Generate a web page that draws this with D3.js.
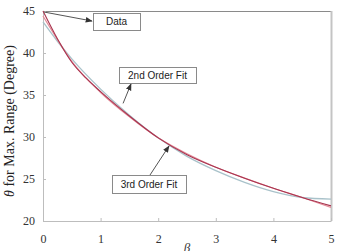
<!DOCTYPE html>
<html><head><meta charset="utf-8">
<script src="https://cdn.jsdelivr.net/npm/d3@7"></script>
<style>body{margin:0;background:#fff;}svg{display:block;}</style>
</head><body>
<svg id="c" width="337" height="251"></svg>
<script>
const betaData = [0, 0.25, 0.5, 0.75, 1, 1.5, 2, 2.5, 3, 3.5, 4, 4.5, 5];
const thetaData = [45, 41.7, 38.9, 37.0, 35.4, 32.5, 29.9, 27.9, 26.4, 25.1, 23.9, 22.8, 21.8];
const betaFit = [0, 0.25, 0.5, 1, 1.5, 2, 2.5, 3, 3.5, 4, 4.5, 5];
const theta2nd = [43.7, 41.4, 39.3, 35.7, 32.6, 29.9, 27.7, 26.0, 24.6, 23.5, 22.8, 22.6];
const theta3rd = [44.4, 41.6, 39.0, 35.3, 32.4, 29.9, 28.0, 26.4, 25.1, 23.9, 22.8, 21.6];
const xTicks = [0, 1, 2, 3, 4, 5];
const yTicks = [20, 25, 30, 35, 40, 45];

const svg = d3.select("#c");
const L = 43, R = 331, T = 11, B = 221;
const x = d3.scaleLinear().domain([0, 5]).range([L, R]);
const y = d3.scaleLinear().domain([20, 45]).range([B, T]);

// frame
svg.append("line").attr("x1", L).attr("x2", R).attr("y1", T+0.5).attr("y2", T+0.5).attr("stroke", "#8a8a8a");
svg.append("line").attr("x1", R+0.5).attr("x2", R+0.5).attr("y1", T).attr("y2", B).attr("stroke", "#c4c4c4").attr("stroke-width", 2);

const xAxis = svg.append("g").attr("transform", `translate(0,${B})`)
  .call(d3.axisBottom(x).tickValues(xTicks).tickSizeInner(-3).tickSizeOuter(0).tickPadding(13).tickFormat(d3.format("d")));
const yAxis = svg.append("g").attr("transform", `translate(${L},0)`)
  .call(d3.axisLeft(y).tickValues(yTicks).tickSizeInner(-3).tickSizeOuter(0).tickPadding(8).tickFormat(d3.format("d")));
[xAxis, yAxis].forEach(g => {
  g.select(".domain").attr("stroke", "#bdbdbd");
  g.selectAll(".tick line").attr("stroke", "#bdbdbd");
  g.selectAll("text").attr("font-family", "Liberation Serif, serif").attr("font-size", 12).attr("fill", "#333");
});

const line = d3.line().curve(d3.curveMonotoneX);
const draw = (xs, ys, color, w) => svg.append("path")
  .attr("d", line(xs.map((b, i) => [x(b), y(ys[i])])))
  .attr("fill", "none").attr("stroke", color).attr("stroke-width", w);
draw(betaFit, theta2nd, "#a9c2ca", 1.3);
draw(betaFit, theta3rd, "#e48a97", 1.2);
draw(betaData, thetaData, "#a8344f", 1.1);

// arrows
const defs = svg.append("defs");
defs.append("marker").attr("id", "ah").attr("viewBox", "0 0 10 10").attr("refX", 9).attr("refY", 5)
  .attr("markerWidth", 7).attr("markerHeight", 7).attr("orient", "auto")
  .append("path").attr("d", "M0,1 L10,5 L0,9 Z").attr("fill", "#333");
const arrow = (x1, y1, x2, y2) => svg.append("line").attr("x1", x1).attr("y1", y1).attr("x2", x2).attr("y2", y2)
  .attr("stroke", "#555").attr("stroke-width", 1).attr("marker-end", "url(#ah)");
arrow(x(0) + 1, y(45) + 1, 92, 21);
arrow(x(1.39), y(34.0), 131, 84);
arrow(150, 175, 169, 146);

const box = (bx, by, bw, bh, txt) => {
  svg.append("rect").attr("x", bx + 0.5).attr("y", by + 0.5).attr("width", bw).attr("height", bh)
    .attr("fill", "#fff").attr("stroke", "#8a8a8a");
  svg.append("text").attr("x", bx + bw / 2).attr("y", by + bh / 2 + 3.5).attr("text-anchor", "middle")
    .attr("font-family", "Liberation Sans, Arial, sans-serif").attr("font-size", 10).attr("fill", "#222").text(txt);
};
box(93, 13, 47, 17, "Data");
box(119, 67, 77, 16, "2nd Order Fit");
box(112, 175, 74, 18, "3rd Order Fit");

// axis titles
const yt = svg.append("text").attr("transform", "translate(14,121) rotate(-90)").attr("text-anchor", "middle")
  .attr("font-family", "Liberation Serif, serif").attr("font-size", 14).attr("fill", "#222");
yt.append("tspan").attr("font-style", "italic").text("θ");
yt.append("tspan").text(" for Max. Range (Degree)");
svg.append("text").attr("x", x(2.5)).attr("y", 252).attr("text-anchor", "middle")
  .attr("font-family", "Liberation Serif, serif").attr("font-style", "italic").attr("font-size", 13).attr("fill", "#333").text("β");
</script>
</body></html>
